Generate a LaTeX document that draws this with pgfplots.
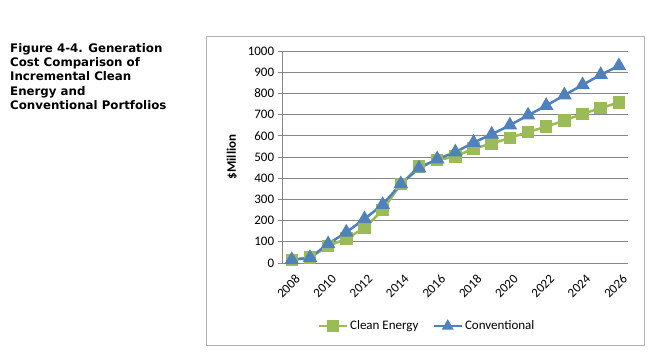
\documentclass[border=0pt]{standalone}
\usepackage{pgfplots}
\pgfplotsset{compat=1.18}
\usepackage{fontspec}
\setmainfont{Carlito}
\newfontfamily\titlefont{DejaVu Sans}
\definecolor{cgreen}{HTML}{9BBB59}
\definecolor{cblue}{HTML}{4F81BD}
\definecolor{gridgray}{HTML}{868686}
\begin{document}
\begin{tikzpicture}[x=1pt,y=1pt]
\path (0,0) rectangle (655,359);
\draw[color=black!30, line width=0.8pt] (206,323) rectangle (644,14);
\node[anchor=north west, align=left, inner sep=0pt, font=\titlefont\bfseries\fontsize{11.8}{14.4}\selectfont] at (10,316)
{Figure 4-4. Generation\\Cost Comparison of\\Incremental Clean\\Energy and\\Conventional Portfolios};
\begin{axis}[
  at={(282.7pt,96pt)}, anchor=south west,
  scale only axis, width=345.3pt, height=212pt,
  xmin=2007.5, xmax=2026.5, ymin=0, ymax=1000,
  axis x line*=bottom, axis y line*=left,
  axis line style={gridgray, line width=0.8pt},
  xtick={2008,2010,...,2026},
  xticklabels={2008,2010,2012,2014,2016,2018,2020,2022,2024,2026},
  minor xtick={2007.5,2008.5,...,2026.5},
  ytick={0,100,...,1000},
  tick align=outside,
  major tick length=5pt, minor tick length=5pt,
  xtick style={draw=none},
  minor tick style={gridgray, line width=0.8pt},
  ytick style={gridgray, line width=0.8pt},
  ymajorgrids, grid style={gridgray, line width=0.8pt},
  /pgf/number format/assume math mode=true,
  ticklabel style={font=\fontsize{13}{15}\selectfont, black},
  yticklabel style={/pgf/number format/1000 sep={}},
  xticklabel style={rotate=45, anchor=north east, inner sep=1pt, xshift=-1pt, yshift=-5pt},
  ylabel={\textbf{\$Million}},
  every axis y label/.style={at={(axis description cs:-0.147,0.5)}, rotate=90, anchor=center, font=\fontsize{13}{15}\selectfont},
  legend style={at={(0.418,-0.298)}, anchor=center, draw=none, fill=none,
    legend columns=2, font=\fontsize{13}{15}\selectfont,
    /tikz/every even column/.append style={column sep=12pt}},
  legend image code/.code={\draw[mark repeat=2,mark phase=2, mark size=4.5pt] plot coordinates {(0pt,0pt)(14pt,0pt)(28pt,0pt)};},
  clip=false,
]
\addplot[cgreen, line width=2.5pt, mark=square*, mark size=5pt, mark options={solid}] coordinates {
(2008,15)(2009,25)(2010,80)(2011,115)(2012,165)(2013,250)(2014,373)(2015,455)(2016,485)
(2017,502)(2018,540)(2019,563)(2020,590)(2021,618)(2022,643)(2023,672)(2024,704)(2025,730)(2026,758)};
\addlegendentry{Clean Energy}
\addplot[cblue, line width=2.5pt, mark=triangle*, mark size=6pt, mark options={solid}] coordinates {
(2008,15)(2009,25)(2010,90)(2011,145)(2012,208)(2013,275)(2014,373)(2015,447)(2016,490)
(2017,523)(2018,568)(2019,607)(2020,650)(2021,697)(2022,742)(2023,792)(2024,840)(2025,888)(2026,930)};
\addlegendentry{Conventional}
\end{axis}
\end{tikzpicture}
\end{document}
